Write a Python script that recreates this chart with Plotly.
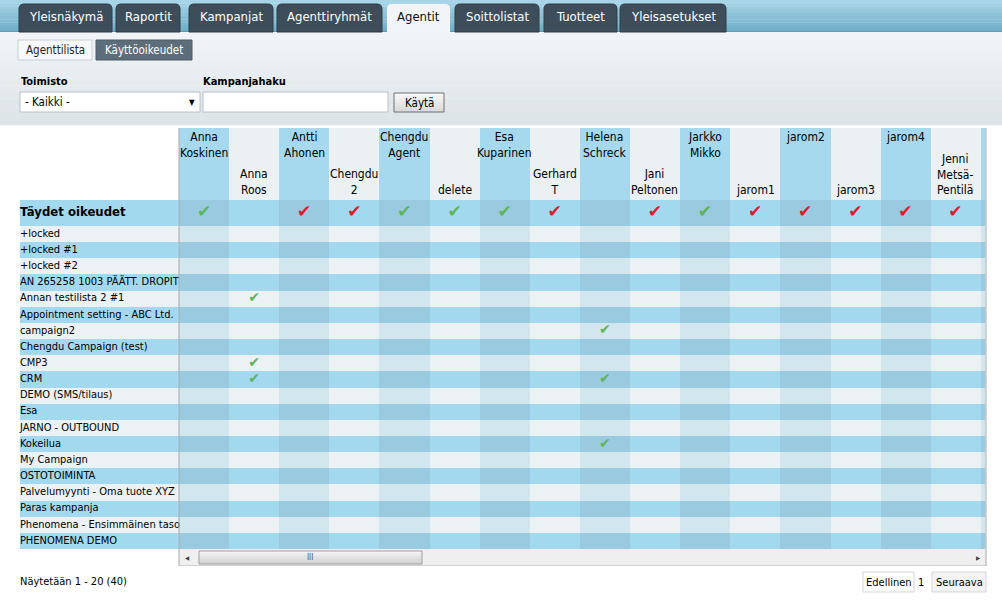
import plotly.graph_objects as go

W, H = 1002, 600
FONT = "Tahoma, 'DejaVu Sans Condensed', 'Liberation Sans', sans-serif"

# ---------------- data ----------------
tabs = ["Yleisnäkymä", "Raportit", "Kampanjat", "Agenttiryhmät", "Agentit",
        "Soittolistat", "Tuotteet", "Yleisasetukset"]
active_tab = "Agentit"
subtabs = ["Agenttilista", "Käyttöoikeudet"]
active_subtab = "Käyttöoikeudet"

agents = ["Anna Koskinen", "Anna Roos", "Antti Ahonen", "Chengdu 2", "Chengdu Agent",
          "delete", "Esa Kuparinen", "Gerhard T", "Helena Schreck", "Jani Peltonen",
          "Jarkko Mikko", "jarom1", "jarom2", "jarom3", "jarom4", "Jenni Metsä-Pentilä"]
agent_headers = ["Anna<br>Koskinen", "Anna<br>Roos", "Antti<br>Ahonen", "Chengdu<br>2",
                 "Chengdu<br>Agent", "delete", "Esa<br>Kuparinen", "Gerhard<br>T",
                 "Helena<br>Schreck", "Jani<br>Peltonen", "Jarkko<br>Mikko", "jarom1",
                 "jarom2", "jarom3", "jarom4", "Jenni<br>Metsä-<br>Pentilä"]
hidden_agent = "…"   # next column, cut off by the scroll area

campaigns = ["+locked", "+locked #1", "+locked #2", "AN 265258 1003 PÄÄTT. DROPIT",
             "Annan testilista 2 #1", "Appointment setting - ABC Ltd.", "campaign2",
             "Chengdu Campaign (test)", "CMP3", "CRM", "DEMO (SMS/tilaus)", "Esa",
             "JARNO - OUTBOUND", "Kokeilua", "My Campaign", "OSTOTOIMINTA",
             "Palvelumyynti - Oma tuote XYZ", "Paras kampanja",
             "Phenomena - Ensimmäinen taso", "PHENOMENA DEMO"]

full_rights_label = "Täydet oikeudet"
# "g" = granted (green), "r" = red mark, None = empty
full_rights = ["g", None, "r", "r", "g", "g", "g", "r", None, "r", "g",
               "r", "r", "r", "r", "r"]

campaign_rights_campaign = ["Annan testilista 2 #1", "CMP3", "CRM",
                            "campaign2", "CRM", "Kokeilua"]
campaign_rights_agent = ["Anna Roos", "Anna Roos", "Anna Roos",
                         "Helena Schreck", "Helena Schreck", "Helena Schreck"]

footer_text = "Näytetään 1 - 20 (40)"
pager = ["Edellinen", "1", "Seuraava"]

# ---------------- helpers ----------------
def X(px):
    return px / W

def Y(py):
    return 1 - py / H

shapes = []
annotations = []

def rect(x0, y0, x1, y1, fill, line=None, lw=1, layer="below"):
    shapes.append(dict(type="rect", xref="paper", yref="paper",
                       x0=X(x0), x1=X(x1), y0=Y(y1), y1=Y(y0),
                       fillcolor=fill, layer=layer,
                       line=dict(color=line or fill, width=lw if line else 0)))

def hex2rgb(h):
    h = h.lstrip("#")
    return tuple(int(h[i:i + 2], 16) for i in (0, 2, 4))

def gradient(x0, y0, x1, y1, c_top, c_bot, n=12):
    a, b = hex2rgb(c_top), hex2rgb(c_bot)
    step = (y1 - y0) / n
    for i in range(n):
        t = i / (n - 1)
        c = "rgb(%d,%d,%d)" % tuple(round(a[k] + (b[k] - a[k]) * t) for k in range(3))
        rect(x0, y0 + i * step, x1, y0 + (i + 1) * step + 0.3, c)

def text(x, y, s, size=11, color="#000", xanchor="left", bold=False, yanchor="middle"):
    annotations.append(dict(xref="paper", yref="paper", x=X(x), y=Y(y),
                            text=("<b>%s</b>" % s) if bold else s,
                            showarrow=False, xanchor=xanchor, yanchor=yanchor,
                            font=dict(family=FONT, size=size, color=color)))

def tab_path(x0, y0, x1, y1, r=5):
    rx, ry = r / W, r / H
    a0, a1, b0, b1 = X(x0), X(x1), Y(y1), Y(y0)
    return (f"M {a0},{b0} L {a0},{b1 - ry} Q {a0},{b1} {a0 + rx},{b1} "
            f"L {a1 - rx},{b1} Q {a1},{b1} {a1},{b1 - ry} L {a1},{b0} Z")

# ---------------- page chrome ----------------
gradient(0, 0, W, 32, "#a7d4e7", "#6fafc8", n=10)
rect(0, 31, W, 32, "#5e9cb6")
gradient(0, 32, W, 125, "#f0f4f6", "#dde4e8", n=14)

tab_x = [(19, 112), (116, 180), (189, 273), (277, 382), (387, 450),
         (455, 539), (544, 617), (620, 726)]
for name, (a, b) in zip(tabs, tab_x):
    if name == active_tab:
        shapes.append(dict(type="path", xref="paper", yref="paper", path=tab_path(a, 4, b, 33),
                           fillcolor="#f2f5f7", line=dict(width=0), layer="below"))
        text((a + b) / 2, 17, name, size=13, color="#111", xanchor="center")
    else:
        shapes.append(dict(type="path", xref="paper", yref="paper", path=tab_path(a, 4, b, 32),
                           fillcolor="#3d4e5a", line=dict(color="#2f3d47", width=1), layer="below"))
        text((a + b) / 2, 17, name, size=13, color="#ffffff", xanchor="center")

sub_x = [(18, 92), (96, 192)]
for name, (a, b) in zip(subtabs, sub_x):
    if name == active_subtab:
        rect(a, 40, b, 60, "#5d6d79", line="#4f5e69")
        text((a + b) / 2, 50, name, size=11.5, color="#ffffff", xanchor="center")
    else:
        rect(a, 40, b, 60, "#f7f8f9", line="#c9cfd3")
        text((a + b) / 2, 50, name, size=11.5, color="#222", xanchor="center")

text(19, 81, "Toimisto", size=11, bold=True)
text(201, 81, "Kampanjahaku", size=11, bold=True)
rect(20, 92, 200, 112, "#ffffff", line="#b8c0c5")
text(23, 102, "- Kaikki -", size=11.5)
text(192, 103, "▼", size=8, xanchor="center")
rect(203, 92, 388, 112, "#ffffff", line="#b8c0c5")
gradient(394, 93, 444, 112, "#f6f6f6", "#dcdcdc", n=6)
rect(394, 93, 444, 112, "rgba(0,0,0,0)", line="#707070")
text(419, 102.5, "Käytä", size=11.5, xanchor="center")

# table borders and scrollbar
rect(178.5, 128, 179.5, 566, "#a9a9a9", layer="above")
rect(985.5, 128, 986.5, 566, "#a9a9a9", layer="above")
rect(179, 549, 986, 565, "#efefef")
rect(179, 565, 986, 566, "#d0d0d0")
gradient(199, 551, 422, 564, "#f2f2f2", "#d2d2d2", n=5)
rect(199, 551, 422, 564, "rgba(0,0,0,0)", line="#a0a0a0")
text(310, 557.5, "III", size=8, color="#555", xanchor="center")
text(187, 557.5, "◀", size=6, color="#444", xanchor="center")
text(978, 557.5, "▶", size=6, color="#444", xanchor="center")

# footer
text(18, 581, footer_text, size=11)
rect(863, 572, 914, 592, "#ffffff", line="#d4d4d4")
text(888.5, 582, pager[0], size=11, xanchor="center")
text(921, 582, pager[1], size=11, xanchor="center")
rect(932, 572, 986, 592, "#f4f4f4", line="#d4d4d4")
text(959, 582, pager[2], size=11, xanchor="center")

# ---------------- table (traces on axes) ----------------
cols = agents + [hidden_agent]
C_LIGHT, C_LIGHT_SH = "#ecf1f4", "#d2e6ee"
C_BLUE, C_BLUE_SH = "#a3d9ef", "#99cadf"
cs_body = [[0, C_LIGHT], [0.25, C_LIGHT], [0.25, C_LIGHT_SH], [0.5, C_LIGHT_SH],
           [0.5, C_BLUE], [0.75, C_BLUE], [0.75, C_BLUE_SH], [1, C_BLUE_SH]]

z_body = [[2 * (r % 2) + (1 if c % 2 == 0 else 0) for c in range(len(cols))]
          for r in range(len(campaigns))]
z_full = [[2 + (1 if c % 2 == 0 else 0) for c in range(len(cols))]]
z_head = [[1 if c % 2 == 0 else 0 for c in range(len(cols))]]

fig = go.Figure()
common = dict(showscale=False, hoverinfo="skip", xgap=0, ygap=0)
fig.add_trace(go.Heatmap(x=cols, y=campaigns, z=z_body, zmin=0, zmax=3,
                         colorscale=cs_body, xaxis="x", yaxis="y", **common))
fig.add_trace(go.Heatmap(x=cols, y=[full_rights_label], z=z_full, zmin=0, zmax=3,
                         colorscale=cs_body, xaxis="x", yaxis="y3", **common))
fig.add_trace(go.Heatmap(x=cols, y=["header"], z=z_head, zmin=0, zmax=1,
                         colorscale=[[0, "#ebf0f3"], [1, "#a6d9ee"]],
                         xaxis="x", yaxis="y2", **common))

# label column backgrounds (x2 is a linear 0..1 axis)
fig.add_trace(go.Heatmap(x0=0.5, dx=1, y=campaigns, z=[[r % 2] for r in range(len(campaigns))],
                         zmin=0, zmax=1, colorscale=[[0, C_LIGHT], [1, C_BLUE]],
                         xaxis="x2", yaxis="y", **common))
fig.add_trace(go.Heatmap(x0=0.5, dx=1, y=[full_rights_label], z=[[1]], zmin=0, zmax=1,
                         colorscale=[[0, C_LIGHT], [1, C_BLUE]],
                         xaxis="x2", yaxis="y3", **common))

# row labels
fig.add_trace(go.Scatter(x=[0.0] * len(campaigns), y=campaigns, mode="text",
                         text=campaigns, textposition="middle right",
                         textfont=dict(family=FONT, size=11, color="#000"),
                         xaxis="x2", yaxis="y", hoverinfo="skip", cliponaxis=False))
fig.add_trace(go.Scatter(x=[0.0], y=[full_rights_label], mode="text",
                         text=["<b>%s</b>" % full_rights_label], textposition="middle right",
                         textfont=dict(family=FONT, size=13, color="#000"),
                         xaxis="x2", yaxis="y3", hoverinfo="skip", cliponaxis=False))

# check marks
GREEN, RED = "#5cb55a", "#e01a2e"
fx = [a for a, v in zip(agents, full_rights) if v]
fc = [GREEN if v == "g" else RED for v in full_rights if v]
fig.add_trace(go.Scatter(x=fx, y=[full_rights_label] * len(fx), mode="text",
                         text=["✔"] * len(fx), textposition="middle center",
                         textfont=dict(family="DejaVu Sans", size=17, color=fc),
                         xaxis="x", yaxis="y3", hoverinfo="skip"))
fig.add_trace(go.Scatter(x=campaign_rights_agent, y=campaign_rights_campaign, mode="text",
                         text=["✔"] * len(campaign_rights_agent), textposition="middle center",
                         textfont=dict(family="DejaVu Sans", size=14, color=GREEN),
                         xaxis="x", yaxis="y", hoverinfo="skip"))

# column headers
for i, lab in enumerate(agent_headers):
    top = (i % 2 == 0)
    annotations.append(dict(xref="x", yref="y2 domain", x=agents[i], y=1 if top else 0,
                            yanchor="top" if top else "bottom", xanchor="center",
                            yshift=0 if top else 1, text=lab, showarrow=False, align="center",
                            font=dict(family=FONT, size=12, color="#000")))

axis_off = dict(showgrid=False, zeroline=False, showticklabels=False, ticks="",
                showline=False, fixedrange=True)
fig.update_layout(
    width=W, height=H, margin=dict(l=0, r=0, t=0, b=0),
    paper_bgcolor="#ffffff", plot_bgcolor="rgba(0,0,0,0)",
    showlegend=False, shapes=shapes, annotations=annotations,
    xaxis=dict(domain=[X(179), X(985.5)], type="category", categoryorder="array",
               categoryarray=cols, range=[-0.5, 15.6], anchor="y", **axis_off),
    xaxis2=dict(domain=[X(18), X(179)], type="linear", range=[-0.012, 1],
                anchor="y", **axis_off),
    yaxis=dict(domain=[Y(549), Y(226)], type="category", categoryorder="array",
               categoryarray=campaigns, range=[len(campaigns) - 0.5, -0.5],
               anchor="x", **axis_off),
    yaxis2=dict(domain=[Y(200), Y(128)], type="category", range=[-0.5, 0.5],
                anchor="x", **axis_off),
    yaxis3=dict(domain=[Y(226), Y(200)], type="category", range=[-0.5, 0.5],
                anchor="x", **axis_off),
)

fig.write_html("out.html", config={"displayModeBar": False},
               post_script="document.body.style.margin='0px';")
